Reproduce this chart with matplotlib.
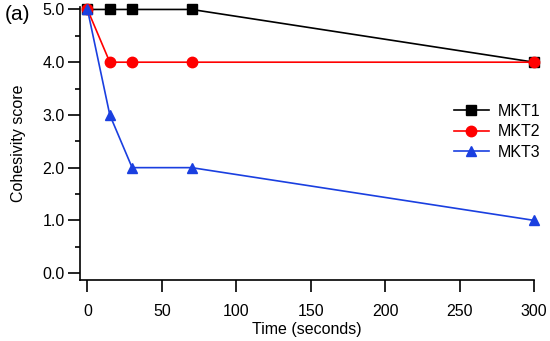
import matplotlib
matplotlib.use("Agg")
import matplotlib.pyplot as plt
from matplotlib.ticker import MultipleLocator, FormatStrFormatter

plt.rcParams['font.family'] = ['Liberation Sans', 'DejaVu Sans']

time_s = [0, 15, 30, 70, 300]
mkt1 = [5, 5, 5, 5, 4]
mkt2 = [5, 4, 4, 4, 4]
mkt3 = [5, 3, 2, 2, 1]

fig = plt.figure(figsize=(5.5, 3.41), dpi=100)
ax = fig.add_axes([0.1455, 0.179, 0.8255, 0.801])

ax.plot(time_s, mkt1, color='black', marker='s', ms=7, lw=1.2, label='MKT1', clip_on=False, zorder=3)
ax.plot(time_s, mkt2, color='#ff0000', marker='o', ms=7.5, lw=1.2, label='MKT2', clip_on=False, zorder=4)
ax.plot(time_s, mkt3, color='#1a3fe0', marker='^', ms=7.5, lw=1.2, label='MKT3', clip_on=False, zorder=5)

ax.set_xlim(-5, 300)
ax.set_ylim(-0.13, 5.05)
ax.spines['top'].set_visible(False)
ax.spines['right'].set_visible(False)
for s in ['left', 'bottom']:
    ax.spines[s].set_linewidth(1.2)

ax.xaxis.set_major_locator(MultipleLocator(50))
ax.yaxis.set_major_locator(MultipleLocator(1))
ax.yaxis.set_minor_locator(MultipleLocator(0.5))
ax.yaxis.set_major_formatter(FormatStrFormatter('%.1f'))
ax.tick_params(axis='both', which='major', direction='out', length=8.5, width=1.2, labelsize=11.5)
ax.tick_params(axis='x', which='major', pad=8.5)
ax.tick_params(axis='y', which='major', pad=2.5)
ax.tick_params(axis='y', which='minor', direction='out', length=3.5, width=1.2)

ax.set_xlabel('Time (seconds)', fontsize=11.5, labelpad=2.5)
ax.set_ylabel('Cohesivity score', fontsize=11.5, labelpad=12)

fig.text(0.008, 0.958, '(a)', fontsize=15, va='center', ha='left')

ax.legend(loc='center right', bbox_to_anchor=(1.015, 0.542), frameon=False, fontsize=11.5,
          handlelength=2.2, handletextpad=0.6, labelspacing=0.35, borderaxespad=0, borderpad=0)

fig.savefig('out.png', dpi=100)
